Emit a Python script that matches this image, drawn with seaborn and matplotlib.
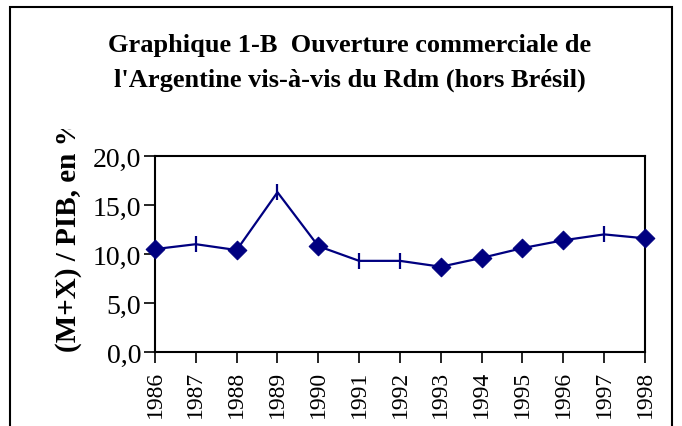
import matplotlib
matplotlib.use("Agg")
import matplotlib.pyplot as plt
import seaborn as sns
import pandas as pd
from matplotlib.ticker import FuncFormatter
from matplotlib.patches import Rectangle
from matplotlib.transforms import Bbox

# data
years = [1986, 1987, 1988, 1989, 1990, 1991, 1992, 1993, 1994, 1995, 1996, 1997, 1998]
ouverture = [10.5, 11.0, 10.4, 16.3, 10.8, 9.3, 9.3, 8.7, 9.6, 10.6, 11.4, 12.0, 11.6]
marqueurs = ['D', '|', 'D', '|', 'D', '|', '|', 'D', 'D', 'D', 'D', '|', 'D']

title = "Graphique 1-B  Ouverture commerciale de\nl'Argentine vis-à-vis du Rdm (hors Brésil)"
ylabel = "(M+X) / PIB, en %"

df = pd.DataFrame({'annee': years, 'valeur': ouverture, 'marqueur': marqueurs})

sns.set_theme(style='white')
plt.rcParams['font.family'] = ['Liberation Serif', 'DejaVu Serif']
plt.rcParams['text.color'] = 'black'
plt.rcParams['xtick.color'] = 'black'
plt.rcParams['ytick.color'] = 'black'

navy = '#000080'

fig = plt.figure(figsize=(6.82, 4.27), dpi=100)
ax = fig.add_axes([155 / 682, 74 / 427, 490 / 682, 196 / 427])

sns.lineplot(data=df, x='annee', y='valeur', color=navy, linewidth=1.6, ax=ax, clip_on=False)
sns.scatterplot(data=df[df['marqueur'] == 'D'], x='annee', y='valeur', marker='D', s=90,
                color=navy, edgecolor=navy, ax=ax, clip_on=False, zorder=3)
sns.scatterplot(data=df[df['marqueur'] == '|'], x='annee', y='valeur', marker='|', s=130,
                color=navy, linewidth=1.6, ax=ax, clip_on=False, zorder=3)

ax.set_xlim(1986, 1998)
ax.set_ylim(0, 20)
ax.set_xticks(years)
ax.set_yticks([0, 5, 10, 15, 20])
ax.yaxis.set_major_formatter(FuncFormatter(lambda v, p: f"{v:.1f}".replace('.', ',')))
ax.set_xticklabels([str(y) for y in years], rotation=90, fontsize=17)
ax.tick_params(axis='y', labelsize=20, pad=2)
ax.tick_params(axis='x', pad=5)
ax.tick_params(direction='out', length=8, width=1.2, color='black', left=True, bottom=True)
for s in ax.spines.values():
    s.set_color('black')
    s.set_linewidth(1.5)
ax.set_xlabel('')
ax.set_ylabel('')

# rotated axis title, clipped at the top like in the source
yl = fig.text(68 / 682, (427 - 352) / 427, ylabel, rotation=90, ha='center', va='bottom',
              fontsize=21, fontweight='bold')
yl.set_clip_box(Bbox.from_extents(0, 0, 682, 427 - 130))
yl.set_clip_on(True)

fig.text(350 / 682, 1 - 63 / 427, title, ha='center', va='center', fontsize=19,
         fontweight='bold', linespacing=1.65)

# outer frame
fig.patches.append(Rectangle((10 / 682, -0.1), 662 / 682, 1.1 - 8 / 427, transform=fig.transFigure,
                             fill=False, edgecolor='black', linewidth=1.5))

fig.savefig('out.png', dpi=100)
